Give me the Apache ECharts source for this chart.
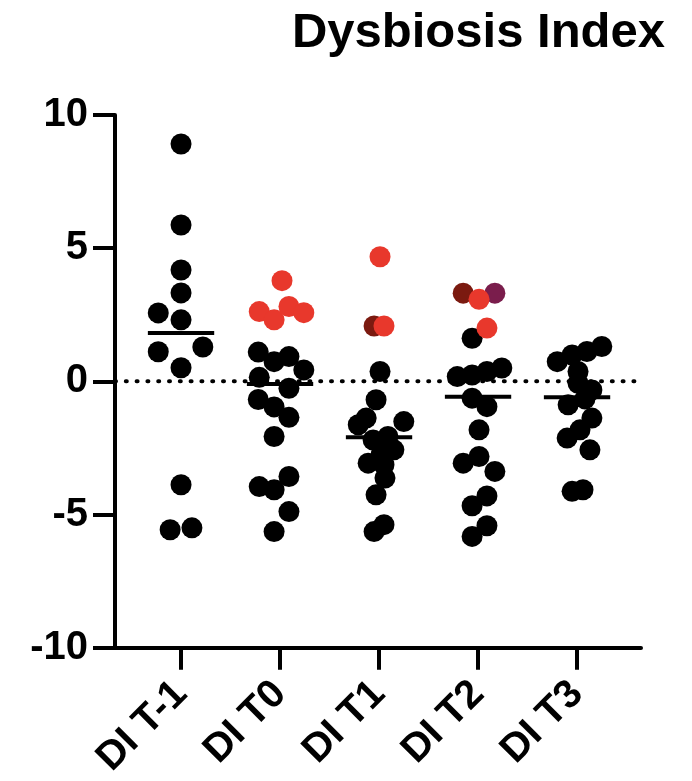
<!DOCTYPE html>
<html>
<head>
<meta charset="utf-8">
<script src="https://cdn.jsdelivr.net/npm/echarts@6/dist/echarts.min.js"></script>
<style>
  html, body { margin: 0; background: #fff; }
  #chart { width: 692px; height: 781px; }
</style>
</head>
<body>
<div id="chart"></div>
<script>
// groups on the x axis (1..5), points are [x with jitter, value]
var categories = ['DI T-1', 'DI T0', 'DI T1', 'DI T2', 'DI T3'];
var medians = [1.82, -0.1, -2.1, -0.58, -0.6];

var blackPoints = [
  // DI T-1
  [1.0, 8.91], [1.0, 5.87], [1.0, 4.18], [1.0, 3.32], [0.77, 2.57], [1.0, 2.31],
  [0.77, 1.11], [1.22, 1.29], [1.0, 0.51], [1.0, -3.88], [0.89, -5.57], [1.11, -5.5],
  // DI T0
  [1.78, 1.1], [1.94, 0.74], [2.09, 0.93], [2.24, 0.43], [1.79, 0.15], [2.09, -0.26],
  [1.78, -0.68], [1.94, -0.96], [2.09, -1.35], [1.94, -2.07], [2.09, -3.57], [1.79, -3.95],
  [1.94, -4.07], [2.09, -4.89], [1.94, -5.64],
  // DI T1
  [3.01, 0.37], [2.97, -0.69], [2.87, -1.38], [2.79, -1.63], [3.25, -1.51], [2.94, -2.2],
  [3.09, -2.07], [3.15, -2.57], [3.02, -2.76], [2.89, -3.07], [3.05, -3.13], [3.06, -3.63],
  [2.97, -4.26], [3.05, -5.38], [2.95, -5.64],
  // DI T2
  [3.94, 1.62], [3.79, 0.18], [3.94, 0.24], [4.09, 0.37], [4.24, 0.5], [3.94, -0.63],
  [4.09, -0.95], [4.01, -1.82], [4.01, -2.82], [3.85, -3.07], [4.17, -3.38], [4.09, -4.3],
  [3.94, -4.67], [4.09, -5.42], [3.94, -5.82],
  // DI T3
  [5.25, 1.31], [5.1, 1.12], [4.95, 0.99], [4.8, 0.74], [5.01, 0.37], [5.01, -0.07],
  [5.15, -0.32], [5.08, -0.66], [4.91, -0.88], [5.15, -1.38], [5.03, -1.82], [4.9, -2.13],
  [5.13, -2.57], [4.95, -4.13], [5.06, -4.07]
];
var darkRedPoints = [[2.95, 2.08], [3.85, 3.31]];
var purplePoints = [[4.17, 3.31]];
var redPoints = [
  [2.02, 3.78], [1.79, 2.62], [1.94, 2.31], [2.09, 2.81], [2.24, 2.58],
  [3.01, 4.68], [3.05, 2.08],
  [4.01, 3.08], [4.09, 2.0]
];

var font = 'Liberation Sans, Arial, Helvetica, sans-serif';
var xMin = 0.333, xMax = 5.646;

function dots(name, data, color) {
  return {
    name: name,
    type: 'scatter',
    data: data,
    symbolSize: 21,
    itemStyle: { color: color, opacity: 1 },
    z: 3
  };
}

var series = [
  // dotted zero line
  {
    type: 'line',
    data: [[xMin, 0], [xMax, 0]],
    symbol: 'none',
    lineStyle: { color: '#000', width: 4, type: [1, 9.8], cap: 'round' },
    z: 1,
    silent: true
  },
  dots('black', blackPoints, '#000000'),
  dots('darkred', darkRedPoints, '#7b1a10'),
  dots('purple', purplePoints, '#7a1d4c'),
  dots('red', redPoints, '#e8382c')
];

// median bars
medians.forEach(function (m, i) {
  series.push({
    type: 'line',
    data: [[i + 1 - 0.335, m], [i + 1 + 0.335, m]],
    symbol: 'none',
    lineStyle: { color: '#000', width: 4 },
    z: 4,
    silent: true
  });
});

var option = {
  animation: false,
  backgroundColor: '#fff',
  title: {
    text: 'Dysbiosis Index',
    right: 22,
    top: 4,
    textStyle: { fontFamily: font, fontWeight: 'bold', fontSize: 49, color: '#000' }
  },
  grid: { left: 115, right: 51, top: 115, bottom: 133 },
  xAxis: {
    type: 'value',
    min: xMin,
    max: xMax,
    splitLine: { show: false },
    axisLine: { onZero: false, lineStyle: { color: '#000', width: 4 } },
    axisTick: { show: true, customValues: [1, 2, 3, 4, 5], length: 22, lineStyle: { color: '#000', width: 4 } },
    axisLabel: {
      customValues: [1, 2, 3, 4, 5],
      rotate: 45,
      margin: 40,
      fontFamily: font,
      fontWeight: 'bold',
      fontSize: 40,
      color: '#000',
      formatter: function (v) { return categories[Math.round(v) - 1]; }
    }
  },
  yAxis: {
    type: 'value',
    min: -10,
    max: 10,
    interval: 5,
    splitLine: { show: false },
    axisLine: { show: true, onZero: false, lineStyle: { color: '#000', width: 4 } },
    axisTick: { show: true, length: 22, lineStyle: { color: '#000', width: 4 } },
    axisLabel: { margin: 27, fontFamily: font, fontWeight: 'bold', fontSize: 40, color: '#000' }
  },
  series: series
};

var chart = echarts.init(document.getElementById('chart'));
chart.setOption(option);
</script>
</body>
</html>
